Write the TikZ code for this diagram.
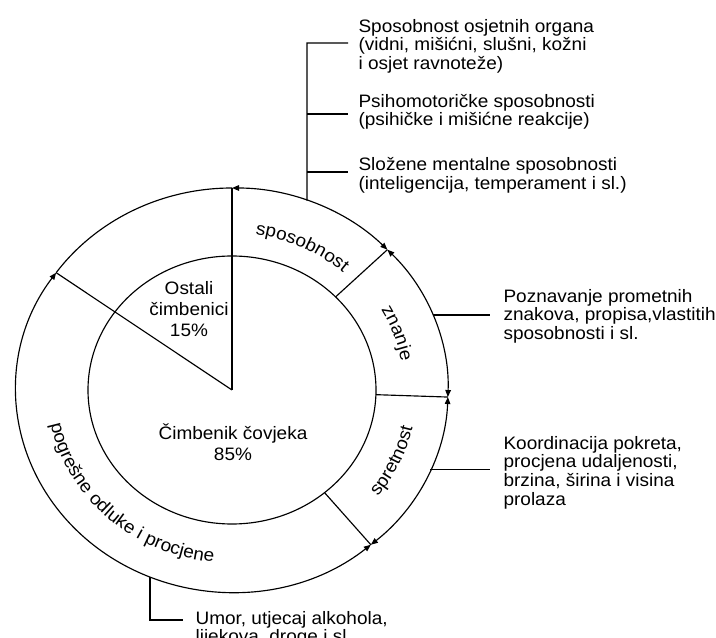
\documentclass[tikz,border=0pt]{standalone}
\usepackage{fontspec}
\setmainfont[FakeStretch=1.055]{Liberation Sans}
\usetikzlibrary{arrows.meta,decorations.text}
\newcommand\lukfont{\fontsize{18}{18}\selectfont}

\begin{document}
\begin{tikzpicture}[x=1pt,y=1pt,line width=1.15pt,>={Triangle[length=7pt,width=5.5pt]}]
\tikzstyle{every node}+=[inner sep=0pt]
\tikzstyle{opis}=[font=\fontsize{18}{18.7}\selectfont,align=left,anchor=north west]
\tikzstyle{udio}=[font=\fontsize{18}{21}\selectfont,align=center]
\tikzstyle{vanjski}=[x radius=216pt,y radius=202pt]
\useasboundingbox (0,0) rectangle (716,638);
\coordinate (c) at (232,248);
% tocke na krugovima
\path (c) ++(90:216pt and 202pt) coordinate (v1);
\path (c) ++(144.5:216pt and 202pt) coordinate (v2);
\path (c) ++(44:216pt and 202pt) coordinate (o1);
\path (c) ++(44:144pt and 134pt) coordinate (i1);
\path (c) ++(-2:216pt and 202pt) coordinate (o2);
\path (c) ++(-2:144pt and 134pt) coordinate (i2);
\path (c) ++(-50:216pt and 202pt) coordinate (o3);
\path (c) ++(-50:144pt and 134pt) coordinate (i3);
% krugovi i isjecci
\draw [black] (c) ellipse [x radius=144pt, y radius=134pt];
\draw [black] (c) -- (v1);
\draw [black] (c) -- (v2);
\draw [black] (i1) -- (o1);
\draw [black] (i2) -- (o2);
\draw [black] (i3) -- (o3);
\draw [black] (v2) arc [vanjski, start angle=144.5, end angle=90];
\draw [black,<->] (v1) arc [vanjski, start angle=90, end angle=44];
\draw [black,<->] (o1) arc [vanjski, start angle=44, end angle=-2];
\draw [black,<->] (o2) arc [vanjski, start angle=-2, end angle=-50];
\draw [black,<->] (o3) arc [vanjski, start angle=-50, end angle=-215.5];
% natpisi u prstenu
\path (c) ++(90:167pt and 157pt) coordinate (k1);
\path (c) ++(40:172pt and 161pt) coordinate (k2);
\path (c) ++(-50:185pt and 173pt) coordinate (k3);
\path (c) ++(180:185pt and 173pt) coordinate (k4);
\path [decorate,decoration={text along path,text align=center,text={|\lukfont|sposobnost}}]
  (k1) arc [start angle=90, end angle=40, x radius=167pt, y radius=157pt];
\path [decorate,decoration={text along path,text align=center,text={|\lukfont|znanje}}]
  (k2) arc [start angle=40, end angle=0, x radius=172pt, y radius=161pt];
\path [decorate,decoration={text along path,text align=center,text={|\lukfont|spretnost}}]
  (k3) arc [start angle=-50, end angle=0, x radius=185pt, y radius=173pt];
\path [decorate,decoration={text along path,text align=center,text={|\lukfont|pogrešne odluke i procjene}}]
  (k4) arc [start angle=180, end angle=275, x radius=185pt, y radius=173pt];
% udjeli
\draw (189,329) node [udio] (ostali) {Ostali\\čimbenici\\15\%};
\draw (233,196) node [udio] (covjek) {Čimbenik čovjeka\\85\%};
% opisi
\draw (358,619.5) node [opis] (sp1) {Sposobnost osjetnih organa\\(vidni, mišićni, slušni, kožni\\i osjet ravnoteže)};
\draw (358,544.5) node [opis] (sp2) {Psihomotoričke sposobnosti\\(psihičke i mišićne reakcije)};
\draw (358,481) node [opis] (sp3) {Složene mentalne sposobnosti\\(inteligencija, temperament i sl.)};
\draw (503,349.5) node [opis] (zn) {Poznavanje prometnih\\znakova, propisa,vlastitih\\sposobnosti i sl.};
\draw (503,202.5) node [opis] (spr) {Koordinacija pokreta,\\procjena udaljenosti,\\brzina, širina i visina\\prolaza};
\draw (195,27.5) node [opis] (um) {Umor, utjecaj alkohola,\\lijekova, droge i sl.};
% vodilice
\path (c) ++(69.7:216pt and 202pt) coordinate (b0);
\coordinate (b1) at (307,595);
\coordinate (b2) at (307,524);
\coordinate (b3) at (307,466);
\draw [black] (b0) -- (b1) -- ++(41,0);
\draw [black] (b2) -- ++(41,0);
\draw [black] (b3) -- ++(41,0);
\path (c) ++(21.8:216pt and 202pt) coordinate (z0);
\draw [black] (z0) -- (z0 -| zn.west) [shorten >=13pt];
\path (c) ++(-23.3:216pt and 202pt) coordinate (r0);
\draw [black] (r0) -- (r0 -| spr.west) [shorten >=13pt];
\path (c) ++(-112.3:216pt and 202pt) coordinate (u0);
\coordinate (u1) at (183,18);
\draw [black] (u0) |- (u1);
\end{tikzpicture}
\end{document}
